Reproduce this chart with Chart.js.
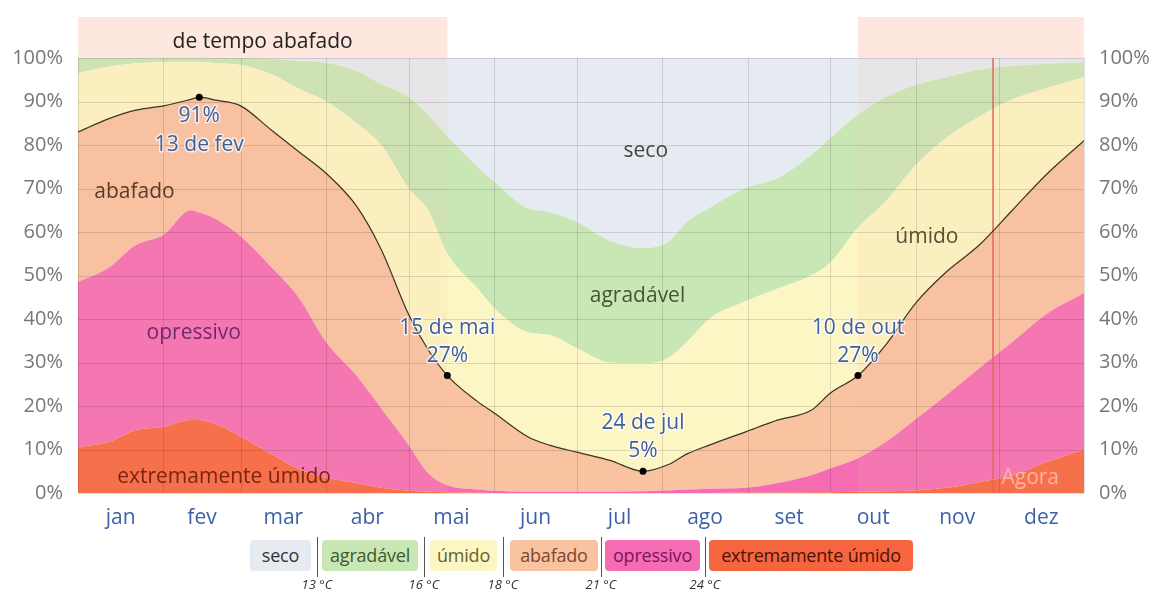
<!DOCTYPE html>
<html>
<head>
<meta charset="utf-8">
<script src="https://cdn.jsdelivr.net/npm/chart.js@4.4.1/dist/chart.umd.min.js"></script>
<style>
  body { margin: 0; background: #fff; font-family: "Open Sans", sans-serif; }
  #wrap { position: relative; width: 1157px; height: 594px; }
  #legend { position: absolute; left: 0; top: 0; width: 1157px; height: 594px; pointer-events: none; }
  .box { position: absolute; top: 540px; height: 31px; line-height: 31px; border-radius: 4px; text-align: center; font-size: 18px; letter-spacing: -0.2px; }
  .sep { position: absolute; top: 537px; width: 1px; height: 40px; background: #555; }
  .temp { position: absolute; top: 575px; width: 50px; margin-left: -25px; text-align: center; font-size: 13px; font-style: italic; color: #333; }
</style>
</head>
<body>
<div id="wrap">
  <canvas id="chart" width="1157" height="594"></canvas>
  <div id="legend"></div>
</div>
<script>
// day of year for each sample
const days = [0, 11, 21, 31, 41, 44, 50, 59, 70, 80, 90, 101, 110, 120, 127, 134, 145, 151, 163, 171, 181, 193, 205, 214, 221, 229, 242, 254, 266, 273, 283, 293, 304, 315, 327, 339, 351, 365];

// upper edge (cumulative %) of each comfort band
const extremo   = [10.5, 11.7, 14.5, 15.2, 16.8, 16.8, 15.8, 13, 9, 5.5, 3.5, 2.3, 1.2, 0.5, 0.3, 0.2, 0.1, 0, 0, 0, 0, 0, 0, 0, 0, 0, 0.1, 0.1, 0.2, 0.2, 0.3, 0.4, 0.6, 1.2, 2.5, 4, 7, 10];
const opressivo = [48.5, 51.7, 57, 59.3, 65, 64.5, 63, 59, 52, 45, 34.7, 27, 19.5, 11, 4.6, 1.8, 0.8, 0.5, 0.3, 0.3, 0.3, 0.3, 0.4, 0.6, 0.8, 1, 1.2, 2.3, 4.1, 5.7, 8, 11.7, 17, 22.5, 28.7, 34.7, 41, 46];
const abafado   = [83, 86, 88, 89, 90.5, 91, 90.3, 89, 83.5, 78.5, 73.5, 66, 56, 41, 33, 27, 21, 18.4, 13, 11, 9.4, 7.5, 5, 6.5, 9, 11, 14, 16.8, 19, 23, 27, 34, 43.7, 50.8, 57, 65, 73, 81];
const umido     = [96.5, 98, 98.8, 99, 99, 99, 98.8, 98.4, 96.3, 93, 90, 85, 80, 70, 65, 55, 47, 42.5, 37, 36.3, 33.3, 30, 29.8, 31, 34.7, 40, 44, 47, 50, 53, 61, 67, 75.4, 81.6, 86.5, 90.5, 93, 95.6];
const agradavel = [100, 100, 100, 100, 100, 100, 100, 100, 99.8, 99.3, 98.9, 97, 94, 91, 87, 82, 75, 71.5, 65.5, 64.6, 62.3, 58, 56.3, 57.7, 62.3, 65.5, 70, 72.4, 77.7, 81.6, 87, 91, 93.8, 95.6, 97.3, 98.2, 98.6, 99];

const monthNames = ["jan", "fev", "mar", "abr", "mai", "jun", "jul", "ago", "set", "out", "nov", "dez"];
const monthStarts = [0, 31, 59, 90, 120, 151, 181, 212, 243, 273, 304, 334, 365];
const yTicks = [0, 10, 20, 30, 40, 50, 60, 70, 80, 90, 100];

// highlighted points on the muggy line
const markDays = [44, 134, 205, 283];
const markValues = [91, 27, 5, 27];
const markDates = ["13 de fev", "15 de mai", "24 de jul", "10 de out"];

const mugPeriods = [[0, 134], [283, 365]];
const nowDay = 332;

const bands = [
  { name: "seco", color: "#e6ebf2", text: "#333" },
  { name: "agradável", color: "#c9e7b5", text: "#3e5a2e" },
  { name: "úmido", color: "#fcf6c4", text: "#66622a" },
  { name: "abafado", color: "#f9c2a1", text: "#7a4a2c" },
  { name: "opressivo", color: "#f56cb2", text: "#7a1660" },
  { name: "extremamente úmido", color: "#f6653f", text: "#4a1408" }
];
const thresholds = ["13 °C", "16 °C", "18 °C", "21 °C", "24 °C"];

const pts = arr => days.map((d, i) => ({ x: d, y: arr[i] }));
const monthMids = monthStarts.slice(0, 12).map((d, i) => (d + monthStarts[i + 1]) / 2);

const FONT = "Open Sans";

function label(ctx, text, x, y, size, color, halo) {
  ctx.font = size + "px '" + FONT + "'";
  ctx.textAlign = "center";
  ctx.textBaseline = "middle";
  if (halo) {
    ctx.strokeStyle = "rgba(255,255,255,0.7)";
    ctx.lineWidth = 3;
    ctx.lineJoin = "round";
    ctx.strokeText(text, x, y);
  }
  ctx.fillStyle = color;
  ctx.fillText(text, x, y);
}

const overlay = {
  id: "overlay",
  beforeDraw(chart) {
    const { ctx, chartArea: a, scales: { x } } = chart;
    ctx.save();
    ctx.fillStyle = "#fde7de";
    mugPeriods.forEach(([s, e]) => {
      const x0 = x.getPixelForValue(s), x1 = x.getPixelForValue(e);
      ctx.fillRect(x0, 17, x1 - x0, a.top - 17);
    });
    ctx.restore();
  },
  beforeDatasetDraw(chart, args) {
    if (args.index !== 1) return;
    const { ctx, chartArea: a, scales: { x, y } } = chart;
    ctx.save();
    ctx.fillStyle = "rgba(250, 190, 170, 0.13)";
    mugPeriods.forEach(([s, e]) => {
      const x0 = x.getPixelForValue(s), x1 = x.getPixelForValue(e);
      ctx.fillRect(x0, a.top, x1 - x0, a.bottom - a.top);
    });
    ctx.strokeStyle = "rgba(0,0,0,0.12)";
    ctx.lineWidth = 1;
    ctx.beginPath();
    yTicks.forEach(v => {
      const py = Math.round(y.getPixelForValue(v)) + 0.5;
      ctx.moveTo(a.left, py); ctx.lineTo(a.right, py);
    });
    monthStarts.forEach(d => {
      const px = Math.round(x.getPixelForValue(d)) + 0.5;
      ctx.moveTo(px, a.top); ctx.lineTo(px, a.bottom);
    });
    ctx.stroke();
    const nx = x.getPixelForValue(nowDay);
    ctx.strokeStyle = "#e5665b";
    ctx.lineWidth = 1.5;
    ctx.beginPath();
    ctx.moveTo(nx, a.top); ctx.lineTo(nx, a.bottom);
    ctx.stroke();
    ctx.restore();
  },
  afterDraw(chart) {
    const { ctx, scales: { x, y } } = chart;
    ctx.save();
    label(ctx, "de tempo abafado", x.getPixelForValue(67), 42, 21, "#222");
    label(ctx, "abafado", x.getPixelForValue(20.5), y.getPixelForValue(69.2), 21, "#5b3a26");
    label(ctx, "opressivo", x.getPixelForValue(42), y.getPixelForValue(36.8), 21, "#6e2a6e");
    label(ctx, "extremamente úmido", x.getPixelForValue(53), y.getPixelForValue(3.7), 21, "#7a2410");
    label(ctx, "seco", x.getPixelForValue(206), y.getPixelForValue(78.6), 21, "#444");
    label(ctx, "agradável", x.getPixelForValue(203), y.getPixelForValue(45.3), 21, "#45553a");
    label(ctx, "úmido", x.getPixelForValue(308), y.getPixelForValue(58.9), 21, "#555030");
    label(ctx, "Agora", x.getPixelForValue(345.5), y.getPixelForValue(3.4), 21, "#fbb3a8");
    markDays.forEach((d, i) => {
      const px = x.getPixelForValue(d), py = y.getPixelForValue(markValues[i]);
      const pct = markValues[i] + "%";
      if (i === 0) {
        label(ctx, pct, px, py + 19, 21, "#3f5f9e", true);
        label(ctx, markDates[i], px, py + 48, 21, "#3f5f9e", true);
      } else {
        label(ctx, markDates[i], px, py - 48, 21, "#3f5f9e", true);
        label(ctx, pct, px, py - 20, 21, "#3f5f9e", true);
      }
    });
    ctx.restore();
  }
};

const area = (data, color, fill) => ({
  data: pts(data), fill: fill, backgroundColor: color,
  borderWidth: 0, pointRadius: 0, tension: 0.3, cubicInterpolationMode: "monotone"
});

new Chart(document.getElementById("chart"), {
  type: "line",
  data: {
    datasets: [
      {
        type: "scatter",
        data: markDays.map((d, i) => ({ x: d, y: markValues[i] })),
        pointRadius: 3.5, pointBackgroundColor: "#000", pointBorderWidth: 0
      },
      {
        data: pts(abafado), fill: false, borderColor: "#3b3327", borderWidth: 1.2,
        pointRadius: 0, cubicInterpolationMode: "monotone"
      },
      area(extremo, bands[5].color, "origin"),
      area(opressivo, bands[4].color, 2),
      area(abafado, bands[3].color, 3),
      area(umido, bands[2].color, 4),
      area(agradavel, bands[1].color, 5),
      area(agradavel, bands[0].color, "end")
    ]
  },
  options: {
    responsive: false,
    animation: false,
    layout: { padding: { top: 58, bottom: 61, left: 0, right: 0 } },
    plugins: { legend: { display: false }, tooltip: { enabled: false } },
    scales: {
      x: {
        type: "linear", min: 0, max: 365,
        grid: { display: false }, border: { display: false },
        afterBuildTicks: scale => { scale.ticks = monthMids.map(v => ({ value: v })); },
        afterFit: scale => { scale.height = 40; },
        ticks: {
          autoSkip: false, maxRotation: 0, padding: 4,
          color: "#3d62a8", font: { family: FONT, size: 21 },
          callback: (v, i) => monthNames[i]
        }
      },
      y: {
        position: "left", min: 0, max: 100,
        grid: { display: false }, border: { display: false },
        afterFit: scale => { scale.width = 78; },
        ticks: { stepSize: 10, padding: 7, color: "#777", font: { family: FONT, size: 20 }, callback: v => v + "%" }
      },
      y2: {
        position: "right", min: 0, max: 100,
        grid: { display: false }, border: { display: false },
        afterFit: scale => { scale.width = 73; },
        ticks: { stepSize: 10, padding: 7, color: "#777", font: { family: FONT, size: 20 }, callback: v => v + "%" }
      }
    }
  },
  plugins: [overlay]
});

// comfort legend under the chart
const boxPos = [[250, 61], [322, 96], [430, 67], [510, 88], [605, 95], [709, 204]];
const sepPos = [317, 424, 503, 601, 705];
const legend = document.getElementById("legend");
bands.forEach((b, i) => {
  const el = document.createElement("div");
  el.className = "box";
  el.style.left = boxPos[i][0] + "px";
  el.style.width = boxPos[i][1] + "px";
  el.style.background = b.color;
  el.style.color = b.text;
  el.textContent = b.name;
  legend.appendChild(el);
});
thresholds.forEach((t, i) => {
  const s = document.createElement("div");
  s.className = "sep";
  s.style.left = sepPos[i] + "px";
  legend.appendChild(s);
  const l = document.createElement("div");
  l.className = "temp";
  l.style.left = sepPos[i] + "px";
  l.textContent = t;
  legend.appendChild(l);
});
</script>
</body>
</html>
